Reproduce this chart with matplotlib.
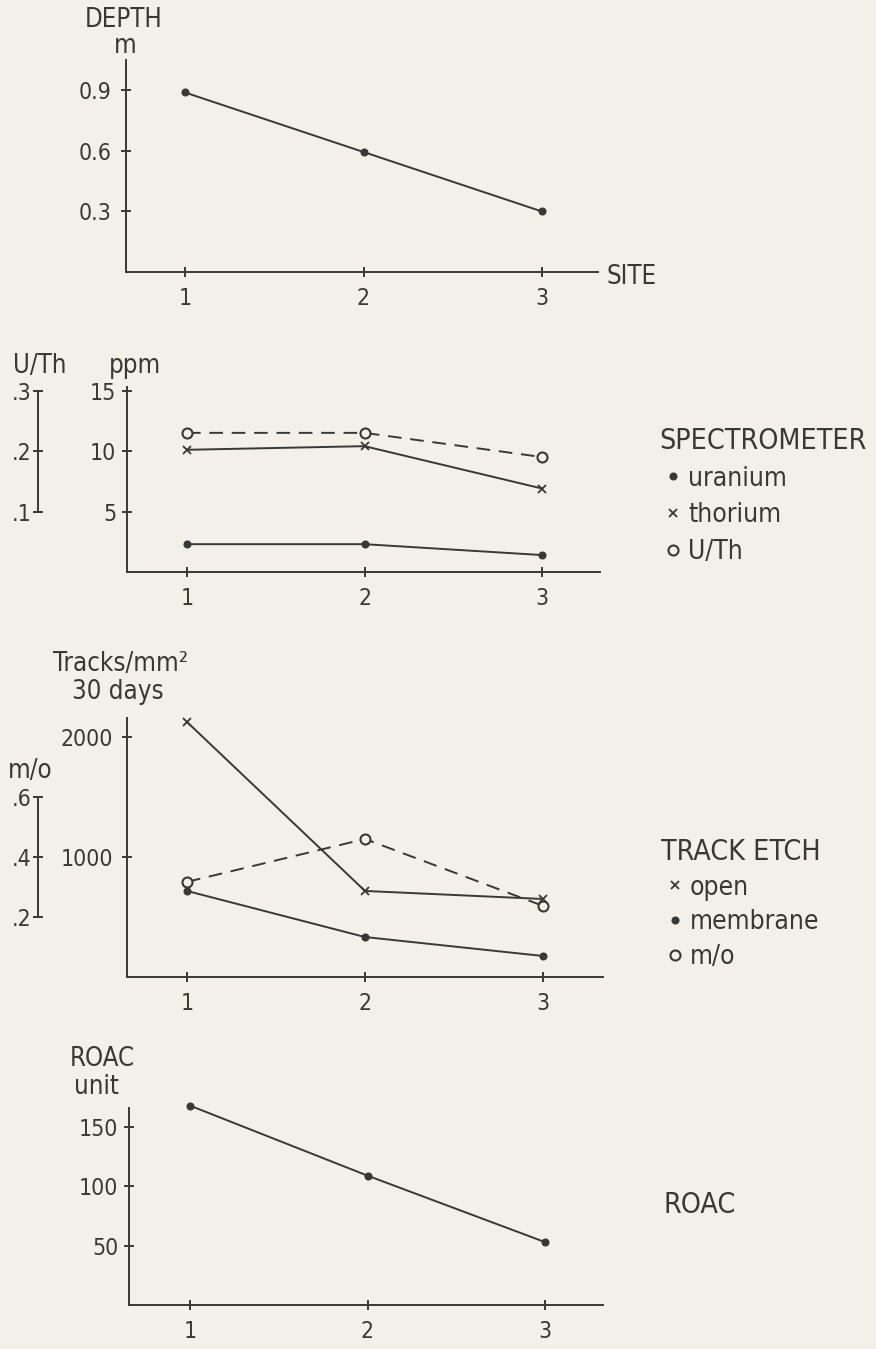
import matplotlib
matplotlib.use('Agg')
import matplotlib.pyplot as plt
from matplotlib.lines import Line2D

# ---------------- data ----------------
sites = [1, 2, 3]
site_labels = ['1', '2', '3']

depth_m = [0.89, 0.595, 0.30]
depth_ticks = [0.3, 0.6, 0.9]
depth_ticklabels = ['0.3', '0.6', '0.9']

uranium_ppm = [2.3, 2.3, 1.4]
thorium_ppm = [10.1, 10.4, 6.9]
u_th_ratio = [0.23, 0.23, 0.19]
ppm_ticks = [5, 10, 15]
ppm_ticklabels = ['5', '10', '15']
uth_ticks = [0.1, 0.2, 0.3]
uth_ticklabels = ['.1', '.2', '.3']

open_tracks = [2125, 717, 650]
membrane_tracks = [717, 333, 175]
m_o_ratio = [0.317, 0.46, 0.237]
tracks_ticks = [1000, 2000]
tracks_ticklabels = ['1000', '2000']
mo_ticks = [0.2, 0.4, 0.6]
mo_ticklabels = ['.2', '.4', '.6']

roac_units = [168, 109, 53]
roac_ticks = [50, 100, 150]
roac_ticklabels = ['50', '100', '150']

# ratio scales relative to the main axes (ratio = main / factor)
UTH_FACTOR = 50.0
MO_FACTOR = 2500.0

# ---------------- style ----------------
W, H, DPI = 876, 1349, 100
INK = '#363935'
BG = '#f3f1e7'
LW = 1.4
TICK_FS = 16.5
LAB_FS = 18.5
LEGT_FS = 20.5
LEG_FS = 19.0

plt.rcParams['font.family'] = ['DejaVu Sans']
plt.rcParams['font.stretch'] = 'condensed'

MARK = {
    'dot': dict(marker='o', ms=4.8, mfc=INK, mec=INK, mew=1.0),
    'cross': dict(marker='x', ms=6.0, mec=INK, mew=1.3),
    'circle': dict(marker='o', ms=7.2, mfc=BG, mec=INK, mew=1.5),
}

fig = plt.figure(figsize=(W / DPI, H / DPI), dpi=DPI, facecolor=BG)


def px_text(x, y, s, size=LAB_FS, ha='center', va='center'):
    fig.text(x / W, 1 - y / H, s, fontsize=size, ha=ha, va=va, color=INK)


def make_panel(left, right, top, bottom, t1, t3, ymax, yticks, ylabels, ypad):
    ax = fig.add_axes([left / W, 1 - bottom / H, (right - left) / W, (bottom - top) / H])
    unit = (t3 - t1) / (sites[-1] - sites[0])
    ax.set_xlim(sites[0] - (t1 - left) / unit, sites[-1] + (right - t3) / unit)
    ax.set_ylim(0, ymax)
    ax.set_facecolor('none')
    for s in ('top', 'right'):
        ax.spines[s].set_visible(False)
    for s in ('left', 'bottom'):
        ax.spines[s].set_color(INK)
        ax.spines[s].set_linewidth(LW)
    ax.set_xticks(sites, labels=site_labels)
    ax.set_yticks(yticks, labels=ylabels)
    ax.tick_params(direction='inout', length=7.5, width=LW, colors=INK, labelsize=TICK_FS)
    ax.tick_params(axis='y', pad=ypad)
    ax.tick_params(axis='x', pad=7)
    return ax


def ratio_bar(ax, factor, ticks, labels, offset_px):
    ax2 = ax.twinx()
    lo, hi = ax.get_ylim()
    ax2.set_ylim(lo / factor, hi / factor)
    for s in ('top', 'right', 'bottom'):
        ax2.spines[s].set_visible(False)
    sp = ax2.spines['left']
    sp.set_visible(True)
    sp.set_color(INK)
    sp.set_linewidth(LW)
    sp.set_position(('outward', offset_px * 72 / DPI))
    sp.set_bounds(ticks[0], ticks[-1])
    ax2.yaxis.set_ticks_position('left')
    ax2.set_yticks(ticks, labels=labels)
    ax2.tick_params(axis='y', direction='inout', length=7.0, width=LW, colors=INK,
                    labelsize=TICK_FS, pad=1.5)
    return ax2


def series(ax, y, mark, dashed=False):
    ax.plot(sites, y, color=INK, lw=LW, ls=(0, (7, 4.5)) if dashed else '-',
            clip_on=False, **MARK[mark])


def side_legend(ax, title, labels, marks, x_px, yc_px, spacing):
    handles = [Line2D([], [], ls='none', color=INK, **MARK[m]) for m in marks]
    leg = ax.legend(handles, labels, title=title, loc='center left',
                    bbox_to_anchor=(x_px / W, 1 - yc_px / H), bbox_transform=fig.transFigure,
                    frameon=False, fontsize=LEG_FS, title_fontsize=LEGT_FS,
                    handlelength=1.05, handletextpad=0.05, labelspacing=spacing,
                    borderpad=0, borderaxespad=0, alignment='left', numpoints=1)
    for t in leg.get_texts():
        t.set_color(INK)
    leg.get_title().set_color(INK)
    return leg


# ---------------- panel 1: depth ----------------
ax1 = make_panel(126, 598, 60, 272, 185, 542, 1.051, depth_ticks, depth_ticklabels, 6.5)
series(ax1, depth_m, 'dot')
px_text(124, 20, 'DEPTH')
px_text(125, 46, 'm')
px_text(606, 277, 'SITE', ha='left')

# ---------------- panel 2: spectrometer ----------------
ax2 = make_panel(127, 600, 387, 572, 187, 542, 15.29, ppm_ticks, ppm_ticklabels, 4.0)
ax2r = ratio_bar(ax2, UTH_FACTOR, uth_ticks, uth_ticklabels, 89)
series(ax2, uranium_ppm, 'dot')
series(ax2, thorium_ppm, 'cross')
series(ax2r, u_th_ratio, 'circle', dashed=True)
px_text(40, 366, 'U/Th')
px_text(135, 366, 'ppm')
side_legend(ax2, 'SPECTROMETER', ['uranium', 'thorium', 'U/Th'],
            ['dot', 'cross', 'circle'], 659, 496, 0.41)

# ---------------- panel 3: track etch ----------------
ax3 = make_panel(127, 603, 718, 977, 187, 543, 2158, tracks_ticks, tracks_ticklabels, 6.5)
ax3r = ratio_bar(ax3, MO_FACTOR, mo_ticks, mo_ticklabels, 89)
series(ax3, open_tracks, 'cross')
series(ax3, membrane_tracks, 'dot')
series(ax3r, m_o_ratio, 'circle', dashed=True)
px_text(121, 664, 'Tracks/mm²')
px_text(118, 692, '30 days')
px_text(30, 771, 'm/o')
side_legend(ax3, 'TRACK ETCH', ['open', 'membrane', 'm/o'],
            ['cross', 'dot', 'circle'], 661, 904, 0.34)

# ---------------- panel 4: ROAC ----------------
ax4 = make_panel(129, 603, 1108, 1305, 190, 545, 166, roac_ticks, roac_ticklabels, 4.0)
series(ax4, roac_units, 'dot')
px_text(102, 1059, 'ROAC')
px_text(96, 1087, 'unit')
px_text(663, 1205, 'ROAC', size=LEGT_FS, ha='left')

fig.savefig('out.png', dpi=DPI, facecolor=BG)
